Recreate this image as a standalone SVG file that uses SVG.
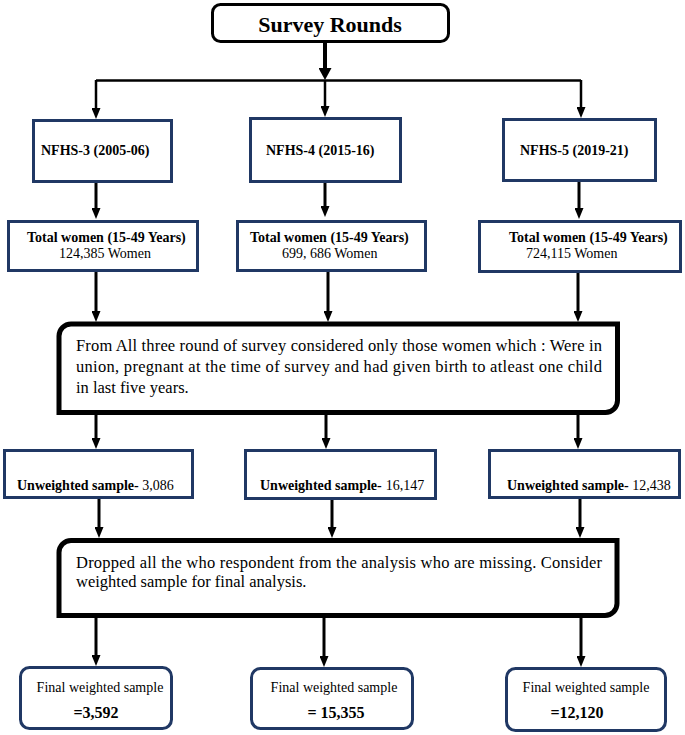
<svg xmlns="http://www.w3.org/2000/svg" width="685" height="735" viewBox="0 0 685 735">
<style>
  .bg{fill:#ffffff}
  .nbox{fill:#ffffff;stroke:#203864;stroke-width:3}
  .kbox{fill:#ffffff;stroke:#000000;stroke-width:5;stroke-linejoin:miter}
  .sbox{fill:#ffffff;stroke:#000000;stroke-width:3}
  .ln{stroke:#000000;stroke-width:3;fill:none}
  .lnh{stroke:#000000;stroke-width:2.5;fill:none}
  .t{font-family:"Liberation Serif","Times New Roman",serif;fill:#000000}
  .b14{font-size:14px;font-weight:bold}
  .r14{font-size:14px}
  .r16{font-size:16.5px}
  .b16{font-size:16px;font-weight:bold}
  .title{font-size:22px;font-weight:bold}
</style>
<defs>
  <marker id="arr" markerUnits="userSpaceOnUse" markerWidth="11" markerHeight="9" refX="4" refY="4.5" orient="auto">
    <path d="M0,0 L11,4.5 L0,9 Z" fill="#000000"/>
  </marker>
  <marker id="arrBig" markerUnits="userSpaceOnUse" markerWidth="12" markerHeight="13" refX="4" refY="6.5" orient="auto">
    <path d="M0,0 L12,6.5 L0,13 Z" fill="#000000"/>
  </marker>
</defs>
<rect class="bg" x="0" y="0" width="685" height="735"/>

<g id="connectors">
  <line x1="325" y1="43" x2="325" y2="72" stroke="#000" stroke-width="4" marker-end="url(#arrBig)"/>
  <line class="lnh" x1="96" y1="80.5" x2="581" y2="80.5"/>
  <line class="lnh" x1="96" y1="80" x2="96" y2="112" marker-end="url(#arr)"/>
  <line class="lnh" x1="325" y1="80" x2="325" y2="110" marker-end="url(#arr)"/>
  <line class="lnh" x1="581" y1="80" x2="581" y2="111" marker-end="url(#arr)"/>

  <line class="ln" x1="96" y1="183" x2="96" y2="212" marker-end="url(#arr)"/>
  <line class="ln" x1="325" y1="183" x2="325" y2="210" marker-end="url(#arr)"/>
  <line class="ln" x1="579" y1="182" x2="579" y2="212" marker-end="url(#arr)"/>

  <line class="ln" x1="96" y1="272" x2="96" y2="315" marker-end="url(#arr)"/>
  <line class="ln" x1="328" y1="272" x2="328" y2="315" marker-end="url(#arr)"/>
  <line class="ln" x1="578" y1="273" x2="578" y2="315" marker-end="url(#arr)"/>

  <line class="ln" x1="96" y1="414" x2="96" y2="442" marker-end="url(#arr)"/>
  <line class="ln" x1="326" y1="414" x2="326" y2="442" marker-end="url(#arr)"/>
  <line class="ln" x1="578" y1="414" x2="578" y2="442" marker-end="url(#arr)"/>

  <line class="ln" x1="99" y1="498" x2="99" y2="531" marker-end="url(#arr)"/>
  <line class="ln" x1="332" y1="500" x2="332" y2="531" marker-end="url(#arr)"/>
  <line class="ln" x1="580" y1="497" x2="580" y2="531" marker-end="url(#arr)"/>

  <line class="ln" x1="96" y1="618" x2="96" y2="659" marker-end="url(#arr)"/>
  <line class="ln" x1="324" y1="618" x2="324" y2="660" marker-end="url(#arr)"/>
  <line class="ln" x1="581" y1="618" x2="581" y2="660" marker-end="url(#arr)"/>
</g>

<g id="survey-rounds">
  <rect class="sbox" x="212.5" y="4.5" width="236" height="37" rx="8"/>
  <text class="t title" x="330" y="32" text-anchor="middle">Survey Rounds</text>
</g>

<g id="nfhs3">
  <rect class="nbox" x="33.5" y="120.5" width="138" height="61"/>
  <text class="t b14" x="41" y="155">NFHS-3 (2005-06)</text>
</g>
<g id="nfhs4">
  <rect class="nbox" x="250.5" y="118.5" width="150" height="63"/>
  <text class="t b14" x="266" y="155">NFHS-4 (2015-16)</text>
</g>
<g id="nfhs5">
  <rect class="nbox" x="503.5" y="119.5" width="152" height="61"/>
  <text class="t b14" x="520" y="155">NFHS-5 (2019-21)</text>
</g>

<g id="total3">
  <rect class="nbox" x="8.5" y="221.5" width="189" height="49"/>
  <text class="t b14" x="27" y="242">Total women (15-49 Years)</text>
  <text class="t r14" x="59" y="258">124,385 Women</text>
</g>
<g id="total4">
  <rect class="nbox" x="237.5" y="221.5" width="188" height="49"/>
  <text class="t b14" x="250" y="242">Total women (15-49 Years)</text>
  <text class="t r14" x="282" y="258">699, 686 Women</text>
</g>
<g id="total5">
  <rect class="nbox" x="479.5" y="221.5" width="201" height="50"/>
  <text class="t b14" x="509" y="242">Total women (15-49 Years)</text>
  <text class="t r14" x="526" y="258">724,115 Women</text>
</g>

<g id="criteria">
  <path class="kbox" d="M59,412.5 L59,336 A12,12 0 0 1 71,324 L617.5,324 L617.5,400.5 A12,12 0 0 1 605.5,412.5 Z"/>
  <text class="t r16" x="76" y="351" textLength="526" lengthAdjust="spacing">From All three round of survey considered only those women which : Were in</text>
  <text class="t r16" x="76" y="372" textLength="526" lengthAdjust="spacing">union, pregnant at the time of survey and had given birth to atleast one child</text>
  <text class="t r16" x="76" y="393">in last five years.</text>
</g>

<g id="unweighted3">
  <rect class="nbox" x="4.5" y="450.5" width="188" height="47"/>
  <text class="t b14" x="17" y="490">Unweighted sample-<tspan font-weight="normal"> 3,086</tspan></text>
</g>
<g id="unweighted4">
  <rect class="nbox" x="245.5" y="450.5" width="190" height="48"/>
  <text class="t b14" x="260" y="490">Unweighted sample-<tspan font-weight="normal" dx="4">16,147</tspan></text>
</g>
<g id="unweighted5">
  <rect class="nbox" x="489.5" y="450.5" width="190" height="47"/>
  <text class="t b14" x="507" y="490">Unweighted sample-<tspan font-weight="normal"> 12,438</tspan></text>
</g>

<g id="dropped">
  <path class="kbox" d="M59,615.5 L59,552.5 A12,12 0 0 1 71,540.5 L617,540.5 L617,603.5 A12,12 0 0 1 605,615.5 Z"/>
  <text class="t r16" x="76" y="568" textLength="526" lengthAdjust="spacing">Dropped all the who respondent from the analysis who  are missing. Consider</text>
  <text class="t r16" x="76" y="587">weighted sample for final analysis.</text>
</g>

<g id="final3">
  <rect class="nbox" x="20.5" y="667.5" width="151" height="61" rx="9"/>
  <text class="t r14" x="100" y="692" text-anchor="middle">Final weighted sample</text>
  <text class="t b16" x="96" y="718" text-anchor="middle">=3,592</text>
</g>
<g id="final4">
  <rect class="nbox" x="251.5" y="668.5" width="161" height="60" rx="9"/>
  <text class="t r14" x="334" y="692" text-anchor="middle">Final weighted sample</text>
  <text class="t b16" x="336" y="718" text-anchor="middle">= 15,355</text>
</g>
<g id="final5">
  <rect class="nbox" x="506.5" y="668.5" width="159" height="62" rx="9"/>
  <text class="t r14" x="586" y="692" text-anchor="middle">Final weighted sample</text>
  <text class="t b16" x="577" y="718" text-anchor="middle">=12,120</text>
</g>
</svg>
